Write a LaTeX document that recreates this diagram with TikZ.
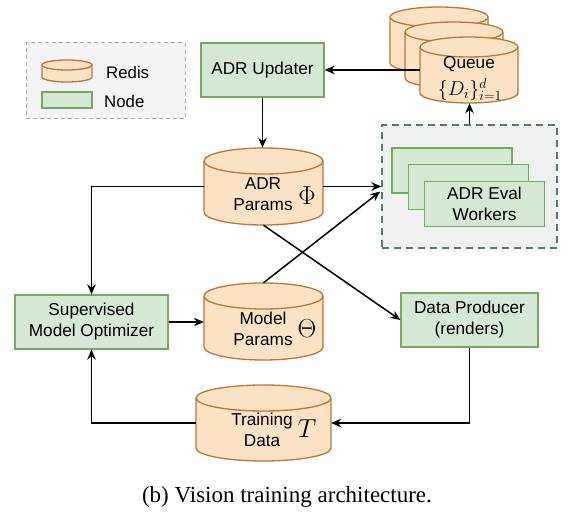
\RequirePackage{fix-cm}
\documentclass[tikz,border=0pt]{standalone}
\usepackage{fontspec}
\setmainfont{Liberation Sans}
\newfontfamily\capfont{Liberation Serif}
\usetikzlibrary{arrows.meta,calc}
\definecolor{gfill}{RGB}{213,232,212}
\definecolor{gline}{RGB}{118,168,96}
\definecolor{ofill}{RGB}{252,226,196}
\definecolor{oline}{RGB}{185,118,55}
\definecolor{lgfill}{RGB}{243,243,245}
\definecolor{lgline}{RGB}{175,175,175}
\definecolor{evfill}{RGB}{239,241,240}
\definecolor{evline}{RGB}{80,125,92}
\newcommand\mycyl[6]{% name cx cy w h ry
 \filldraw[cylst] ({#2-#4/2},{#3-#5/2+#6}) -- ({#2-#4/2},{#3+#5/2-#6})
   arc[start angle=180,end angle=360,x radius={#4*0.5pt},y radius={#6*1pt}]
   -- ({#2+#4/2},{#3-#5/2+#6})
   arc[start angle=0,end angle=180,x radius={#4*0.5pt},y radius={#6*1pt}] -- cycle;
 \draw[cylarc] ({#2-#4/2},{#3-#5/2+#6})
   arc[start angle=180,end angle=360,x radius={#4*0.5pt},y radius={#6*1pt}];
 \node[inner sep=0,minimum width=#4pt,minimum height=#5pt] (#1) at (#2,#3) {};
}
\tikzset{
 cylst/.style={draw=oline,fill=ofill,line width=1.3pt},
 cylarc/.style={draw=oline,line width=1.3pt},
 gbox/.style={draw=gline,fill=gfill,line width=1.3pt,inner sep=0,align=center,
   font=\fontsize{17.2}{21}\selectfont},
 lbl/.style={inner sep=0,align=center,font=\fontsize{17.2}{21}\selectfont},
 mathl/.style={inner sep=0,font=\fontsize{26}{30}\selectfont},
 conn/.style={draw,line width=1.5pt,-{Stealth[length=10pt,width=8.5pt]}},
}
\begin{document}
\begin{tikzpicture}[x=1pt,y=-1pt]
\useasboundingbox (0,0) rectangle (574,513);
% legend
\node[draw=lgline,fill=lgfill,dashed,dash pattern=on 4pt off 3pt,line width=1pt,
  minimum width=159pt,minimum height=76pt,inner sep=0] (leg) at (105.5,81) {};
\mycyl{legcyl}{67}{71}{50}{22}{5}
\node[draw=gline,fill=gfill,line width=1.3pt,minimum width=50pt,minimum height=16pt,inner sep=0] (legrect) at (67,100) {};
\node[inner sep=0,font=\fontsize{16.8}{21}\selectfont,anchor=west] (legr) at (106,72) {Redis};
\node[inner sep=0,font=\fontsize{16.8}{21}\selectfont,anchor=west] (legn) at (104,101) {Node};
% ADR Updater
\node[gbox,minimum width=123pt,minimum height=54pt] (upd) at (262.5,70) {ADR Updater};
% Queue stack
\mycyl{q1}{439}{40}{98}{66}{10}
\mycyl{q2}{454}{55}{98}{66}{10}
\mycyl{q3}{469}{70}{98}{66}{10}
\node[lbl] (qt) at (469,64) {Queue};
\node[inner sep=0,font=\fontsize{20}{22}\selectfont] (qd) at (470,90) {$\{D_i\}_{i=1}^{d}$};
% Eval workers
\node[draw=evline,fill=evfill,dashed,dash pattern=on 7pt off 5pt,line width=1.5pt,
  minimum width=175pt,minimum height=123pt,inner sep=0] (evalbox) at (469.5,186.5) {};
\node[gbox,minimum width=120pt,minimum height=45pt] (w1) at (452,170.5) {};
\node[gbox,minimum width=120pt,minimum height=45pt] (w2) at (468.5,187) {};
\node[gbox,minimum width=120pt,minimum height=45pt] (w3) at (484.5,204) {ADR Eval\\Workers};
% ADR params
\mycyl{adrp}{263.5}{186.5}{119}{77}{13}
\node[lbl] (adrpt) at (263,194) {ADR\\Params};
\node[mathl] (phi) at (307,196) {$\Phi$};
% Supervised
\node[gbox,minimum width=153pt,minimum height=54pt] (sup) at (91.5,322) {Supervised\\Model Optimizer};
% Model params
\mycyl{modp}{263.5}{321.5}{119}{77}{13}
\node[lbl] (modpt) at (263,329) {Model\\Params};
\node[mathl] (theta) at (307,329) {$\Theta$};
% Data producer
\node[gbox,minimum width=137pt,minimum height=54pt] (dprod) at (469.5,320) {Data Producer\\(renders)};
% Training data
\mycyl{train}{263.5}{423}{135}{76}{13}
\node[lbl] (traint) at (262,430) {Training\\Data};
\node[mathl] (tt) at (307,429) {$T$};
% caption
\node[inner sep=0,font=\capfont\fontsize{23}{26}\selectfont] (cap) at (287,497) {(b) Vision training architecture.};
% connectors
\draw[conn] (upd.south) -- (upd.south |- adrp.north);
\draw[conn] (q3.west) -- (upd.east);
\draw[conn] (evalbox.north) -- (evalbox.north |- q3.south);
\draw[conn] (adrp.east) -- (adrp.east -| evalbox.west);
\coordinate (evin) at ($(evalbox.west)+(-1,5)$);
\draw[conn] (modp.north) -- (evin);
\draw[conn] (adrp.south) -- (dprod.west);
\draw[conn] (adrp.west) -| (sup.north);
\draw[conn] (sup.east) -- (sup.east -| modp.west);
\draw[conn] (dprod.south) |- (train.east);
\draw[conn] (train.west) -| (sup.south);
\end{tikzpicture}
\end{document}
